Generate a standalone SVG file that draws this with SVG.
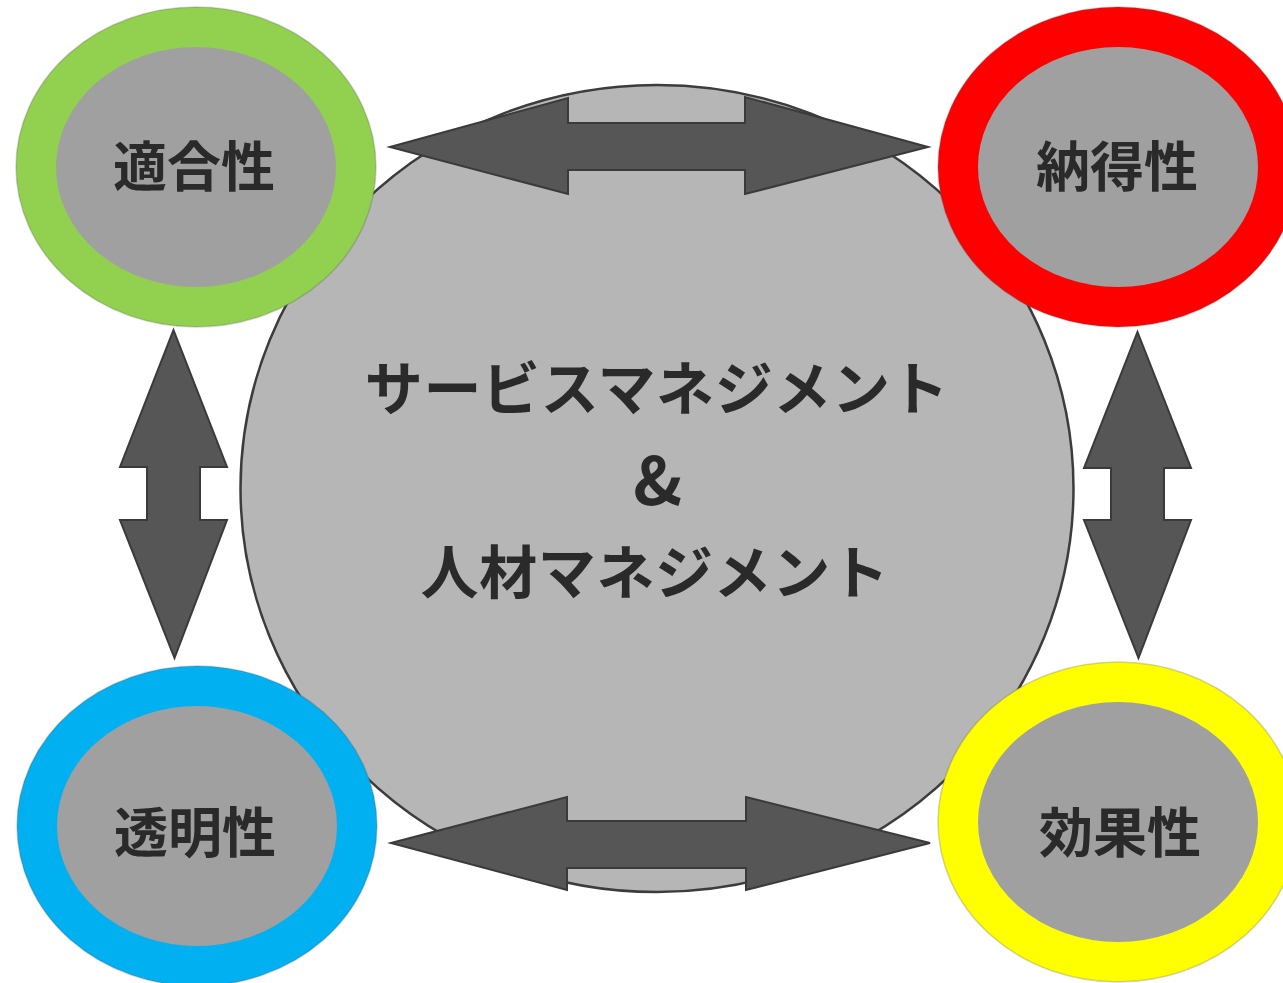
<svg xmlns="http://www.w3.org/2000/svg" width="1283" height="983" viewBox="0 0 1283 983">
<defs>
<style>
.bg{fill:#ffffff}
.big{fill:#b6b6b6;stroke:#3c3c3c;stroke-width:2.5}
.arrow{fill:#565656;stroke:#3a3a3a;stroke-width:2;stroke-linejoin:miter}
.inner{fill:#a0a0a0}
.ring{fill:none;stroke-width:40}
.edge{fill:none;stroke:#555;stroke-opacity:0.25;stroke-width:1.5}
.lbl{font-family:"Noto Sans CJK JP","Noto Sans",sans-serif;font-weight:bold;fill:#2a2a2a;text-anchor:middle;dominant-baseline:central}
.small{font-size:54px}
.main{font-size:58px;letter-spacing:0.6px}
</style>
</defs>
<rect class="bg" x="0" y="0" width="1283" height="983"/>
<g id="center">
<ellipse class="big" cx="657" cy="488.5" rx="416.5" ry="403.5"/>
<text class="lbl main" x="657" y="385">サービスマネジメント</text>
<text class="lbl main" x="658" y="476" style="font-size:66px">&amp;</text>
<text class="lbl main" x="655" y="569">人材マネジメント</text>
</g>
<g id="connectors">
<path class="arrow" d="M390,147 L568,98 L568,123 L745,123 L745,97 L928,147 L745,194 L745,170 L568,170 L568,194 Z"/>
<path class="arrow" d="M391,843 L567,797 L567,821 L746,821 L746,797 L930,843 L746,890 L746,868 L567,868 L567,890 Z"/>
<path class="arrow" d="M173.5,330 L227,467 L200,467 L200,520 L227,520 L174.5,658 L120,520 L147,520 L147,467 L120,467 Z"/>
<path class="arrow" d="M1137.5,332 L1191,468 L1164,468 L1164,520 L1191,520 L1138.5,658 L1084,520 L1111,520 L1111,468 L1084,468 Z"/>
</g>
<g id="tekigousei">
<ellipse class="inner" cx="196" cy="167" rx="150" ry="130"/>
<ellipse class="ring" cx="196" cy="167" rx="160" ry="140" stroke="#92d050"/>
<ellipse class="edge" cx="196" cy="167" rx="180" ry="160"/>
<text class="lbl small" x="194" y="163">適合性</text>
</g>
<g id="nattokusei">
<ellipse class="inner" cx="1118" cy="167" rx="150" ry="130"/>
<ellipse class="ring" cx="1118" cy="167" rx="160" ry="140" stroke="#ff0000"/>
<ellipse class="edge" cx="1118" cy="167" rx="180" ry="160"/>
<text class="lbl small" x="1117" y="163">納得性</text>
</g>
<g id="toumeisei">
<ellipse class="inner" cx="197" cy="826" rx="150" ry="130"/>
<ellipse class="ring" cx="197" cy="826" rx="160" ry="140" stroke="#00b0f0"/>
<ellipse class="edge" cx="197" cy="826" rx="180" ry="160"/>
<text class="lbl small" x="195" y="829">透明性</text>
</g>
<g id="koukasei">
<ellipse class="inner" cx="1118" cy="822" rx="150" ry="130"/>
<ellipse class="ring" cx="1118" cy="822" rx="160" ry="140" stroke="#ffff00"/>
<ellipse class="edge" cx="1118" cy="822" rx="180" ry="160"/>
<text class="lbl small" x="1120" y="829">効果性</text>
</g>
</svg>
